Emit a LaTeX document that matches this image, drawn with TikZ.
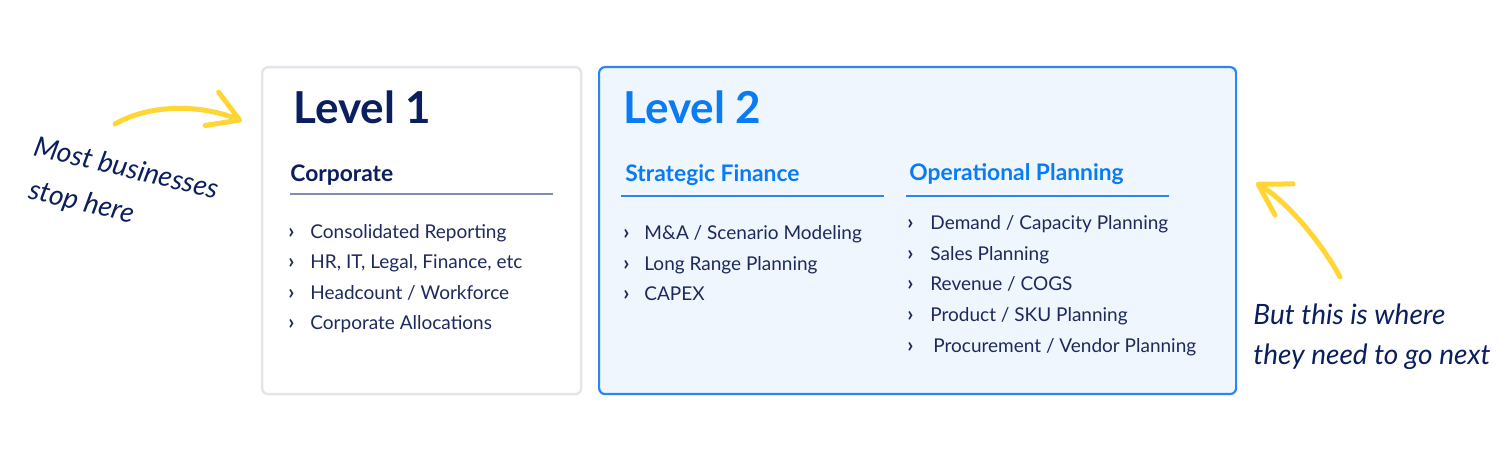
\documentclass[tikz,border=0pt]{standalone}
\usepackage{fontspec}
\setmainfont{Lato}
\usetikzlibrary{arrows.meta}
\definecolor{navy}{HTML}{0B1F5E}
\definecolor{txt}{HTML}{1E2A5C}
\definecolor{blue2}{HTML}{0A7BF2}
\definecolor{bord2}{HTML}{2C86F2}
\definecolor{fill2}{HTML}{EFF6FE}
\definecolor{bord1}{HTML}{E2E5EC}
\definecolor{rule1}{HTML}{7F8CB4}
\definecolor{yel}{HTML}{FFD633}
\tikzset{
  box1/.style={draw=bord1,line width=1.2pt,fill=white,rounded corners=3pt,anchor=north west,inner sep=0pt},
  box2/.style={draw=bord2,line width=1.1pt,fill=fill2,rounded corners=3pt,anchor=north west,inner sep=0pt},
  lvl/.style={anchor=base west,inner sep=0pt,font=\fontsize{22}{26}\selectfont\bfseries},
  head/.style={anchor=base west,inner sep=0pt,font=\fontsize{11.4}{13}\selectfont\bfseries},
  item/.style={anchor=base west,inner sep=0pt,text=txt,font=\fontsize{9.5}{11}\selectfont},
  chev/.style={anchor=base west,inner sep=0pt,text=txt,font=\fontsize{10.5}{11}\selectfont\bfseries},
  hand/.style={anchor=base west,inner sep=0pt,text=navy,align=left,font=\fontsize{14}{20}\selectfont\itshape},
  yarrow/.style={draw=yel,line width=2.5pt,line cap=round,-{Straight Barb[length=15pt,width=18pt,round]}}
}
\begin{document}
\begin{tikzpicture}[x=0.5pt,y=-0.5pt]
\useasboundingbox (0,0) rectangle (1500,453);
% boxes
\node[box1,minimum width=159.5pt,minimum height=163.5pt] (b1) at (261,66) {};
\node[box2,minimum width=318.5pt,minimum height=163.5pt] (b2) at (598,66) {};
% titles
\node[lvl,text=navy] (l1) at (293,124) {Level 1};
\node[lvl,text=blue2] (l2) at (623,124) {Level 2};
% headings
\node[head,text=navy] (h1) at (290,182) {Corporate};
\draw[rule1,line width=0.8pt] (290,194) coordinate (u1a) -- (553,194) coordinate (u1b);
\node[head,text=blue2] (h2) at (625,182) {Strategic Finance};
\draw[bord2,line width=1pt] (621,196) coordinate (u2a) -- (884,196) coordinate (u2b);
\node[head,text=blue2] (h3) at (909,181) {Operational Planning};
\draw[bord2,line width=1pt] (906,196) coordinate (u3a) -- (1169,196) coordinate (u3b);
% level 1 items
\foreach \t [count=\i] in {Consolidated Reporting,{HR, IT, Legal, Finance, etc},{Headcount / Workforce},Corporate Allocations}{
  \node[chev] (c1\i) at (288,{238.5+30.5*(\i-1)}) {›};
  \node[item] (i1\i) at (310,{238.5+30.5*(\i-1)}) {\t};
}
% strategic finance
\foreach \t [count=\i] in {{M\&A / Scenario Modeling},Long Range Planning,CAPEX}{
  \node[chev] (c2\i) at (623,{239.5+30.7*(\i-1)}) {›};
  \node[item] (i2\i) at (644,{239.5+30.7*(\i-1)}) {\t};
}
% operational planning
\foreach \t/\xx [count=\i] in {{Demand / Capacity Planning}/930,{Sales Planning}/930,{Revenue / COGS}/930,{Product / SKU Planning}/930,{Procurement / Vendor Planning}/933}{
  \node[chev] (c3\i) at (907,{229.5+30.7*(\i-1)}) {›};
  \node[item] (i3\i) at (\xx,{229.5+30.7*(\i-1)}) {\t};
}
% handwritten notes
\node[hand,rotate=-13.4,font=\fontsize{14}{21.5}\selectfont\itshape] (n1) at (22,197) {Most businesses\\\hspace*{2.5pt}stop here};
\node[hand] (n3) at (1253,365) {But this is where\\they need to go next};
% arrows
\coordinate (a1s) at (115,124);
\coordinate (a1e) at (242,121);
\draw[yarrow] (a1s) .. controls (150,104) and (200,104) .. (a1e);
\coordinate (a2s) at (1340,277);
\coordinate (a2e) at (1256,183);
\draw[yarrow] (a2s) .. controls (1320,240) and (1285,200) .. (a2e);
\end{tikzpicture}
\end{document}
